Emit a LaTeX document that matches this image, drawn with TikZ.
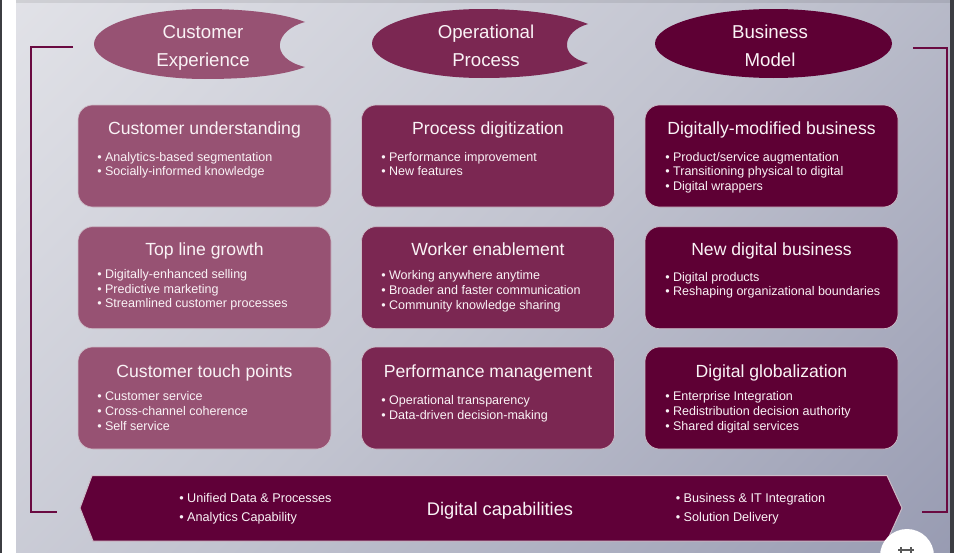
\documentclass[tikz,border=0pt]{standalone}
\usepackage{fontspec}
\setmainfont{Liberation Sans}
\usetikzlibrary{shapes.geometric}

\definecolor{mauve}{HTML}{975273}
\definecolor{plum}{HTML}{7B2752}
\definecolor{wine}{HTML}{5E0034}
\definecolor{bannerfill}{HTML}{600038}
\definecolor{bracketcol}{HTML}{6A0A41}
\definecolor{paneltop}{HTML}{EEEEF1}
\definecolor{panelmid}{HTML}{C2C4D0}
\definecolor{panelbot}{HTML}{878BA6}
\definecolor{ink}{HTML}{FAF3F6}
\definecolor{rim}{HTML}{CDBCC7}
\definecolor{edgedark}{HTML}{3C3D42}

% diagonal backdrop: light at the upper left, slate at the lower right
\pgfdeclareverticalshading{panelshade}{100bp}{color(0bp)=(panelbot); color(50bp)=(panelmid); color(100bp)=(paneltop)}

\newcommand\itemlines[1]{\parbox[t]{190pt}{\raggedright #1}}
\newcommand\headlines[1]{\parbox[t]{120pt}{\centering #1}}

\tikzset{
  tile/.style={rectangle, rounded corners=11pt, minimum width=189.75pt,
    minimum height=76.5pt, inner sep=0pt, draw=rim, line width=0.5pt},
  tiletitle/.style={anchor=base, inner sep=0pt, text=ink,
    font=\fontsize{13.2}{15}\selectfont},
  tilelist/.style={anchor=base west, inner sep=0pt, text=ink,
    font=\fontsize{9.4}{11.1}\selectfont},
  headtext/.style={anchor=base, inner sep=0pt, text=ink,
    font=\fontsize{14}{21.3}\selectfont},
  bannerlist/.style={anchor=base west, inner sep=0pt, text=ink,
    font=\fontsize{9.5}{14.25}\selectfont},
  bannertitle/.style={anchor=base, inner sep=0pt, text=ink,
    font=\fontsize{13.7}{16}\selectfont},
  bracket/.style={draw=bracketcol, line width=1.5pt},
}

\begin{document}
\begin{tikzpicture}[x=0.75pt, y=-0.75pt]
\useasboundingbox (0,0) rectangle (954,553);

% page backdrop
\fill[white] (0,0) rectangle (954,553);
\fill[edgedark] (0,0) rectangle (2,553);
\shade[shading=panelshade, shading angle=45] (16,0) rectangle (950,553);
\fill[black, opacity=0.08] (16,0) rectangle (950,2.5);
\fill[edgedark] (950,0) rectangle (954,553);

% side brackets
\draw[bracket] (73,47) -- (31,47) -- (31,512) -- (57,512);
\draw[bracket] (913,48) -- (947,48) -- (947,512) -- (922,512);

% column headers
\fill[mauve] (94,44) .. controls (94,24.7) and (143.7,9) .. (205,9)
  .. controls (250,9) and (285,14) .. (305,22)
  .. controls (275,30) and (268,58) .. (305,67)
  .. controls (285,75) and (250,79) .. (205,79)
  .. controls (143.7,79) and (94,63.3) .. (94,44) -- cycle;
\fill[plum] (372,43.5) .. controls (372,24.5) and (421,9) .. (482,9)
  .. controls (528,9) and (566,15) .. (588,24)
  .. controls (563,31) and (557,56) .. (588,63)
  .. controls (566,73) and (528,78) .. (482,78)
  .. controls (421,78) and (372,62.5) .. (372,43.5) -- cycle;
\node[ellipse, fill=wine, minimum width=177.75pt, minimum height=51.75pt,
  inner sep=0pt] (bmshape) at (773.5,43.5) {};

\node[headtext] (hce) at (203,38.3) {\headlines{Customer\\Experience}};
\node[headtext] (hop) at (486,38.3) {\headlines{Operational\\Process}};
\node[headtext] (hbm) at (770,38.3) {\headlines{Business\\Model}};

% tiles, row 1
\node[tile, fill=mauve] (cu) at (204.5,156) {};
\node[tile, fill=plum]  (pd) at (488,156) {};
\node[tile, fill=wine]  (dm) at (771.5,156) {};
% tiles, row 2
\node[tile, fill=mauve] (tl) at (204.5,277.7) {};
\node[tile, fill=plum]  (we) at (488,277.7) {};
\node[tile, fill=wine]  (nd) at (771.5,277.7) {};
% tiles, row 3
\node[tile, fill=mauve] (ct) at (204.5,398) {};
\node[tile, fill=plum]  (pm) at (488,398) {};
\node[tile, fill=wine]  (dg) at (771.5,398) {};

% tile titles
\node[tiletitle] (cu-t) at (204.5,134.3) {Customer understanding};
\node[tiletitle] (pd-t) at (488,134.3) {Process digitization};
\node[tiletitle] (dm-t) at (771.5,134.3) {Digitally-modified business};
\node[tiletitle] (tl-t) at (204.5,255.5) {Top line growth};
\node[tiletitle] (we-t) at (488,255.5) {Worker enablement};
\node[tiletitle] (nd-t) at (771.5,255.5) {New digital business};
\node[tiletitle] (ct-t) at (204.5,377) {Customer touch points};
\node[tiletitle] (pm-t) at (488,377) {Performance management};
\node[tiletitle] (dg-t) at (771.5,377) {Digital globalization};

% tile bullet lists
\node[tilelist] (cu-l) at (97,161) {\itemlines{•~Analytics-based segmentation\\•~Socially-informed knowledge}};
\node[tilelist] (pd-l) at (381,161) {\itemlines{•~Performance improvement\\•~New features}};
\node[tilelist] (dm-l) at (665,161) {\itemlines{•~Product/service augmentation\\•~Transitioning physical to digital\\•~Digital wrappers}};
\node[tilelist] (tl-l) at (97,278.3) {\itemlines{•~Digitally-enhanced selling\\•~Predictive marketing\\•~Streamlined customer processes}};
\node[tilelist] (we-l) at (381,279.5) {\itemlines{•~Working anywhere anytime\\•~Broader and faster communication\\•~Community knowledge sharing}};
\node[tilelist] (nd-l) at (665,281) {\itemlines{•~Digital products\\•~Reshaping organizational boundaries}};
\node[tilelist] (ct-l) at (97,400.5) {\itemlines{•~Customer service\\•~Cross-channel coherence\\•~Self service}};
\node[tilelist] (pm-l) at (381,404.3) {\itemlines{•~Operational transparency\\•~Data-driven decision-making}};
\node[tilelist] (dg-l) at (665,400.5) {\itemlines{•~Enterprise Integration\\•~Redistribution decision authority\\•~Shared digital services}};

% foundation banner
\fill[bannerfill] (80,508) -- (92,475.5) -- (887,475.5) -- (902,508) -- (887,541) -- (93,541) -- cycle;
\draw[rim, line width=0.75pt] (80,508) -- (92,475.5) -- (887,475.5) -- (902,508) -- (887,541) -- (93,541) -- cycle;
\node[bannerlist] (dc-l) at (179,502.7) {\itemlines{•~Unified Data \& Processes\\•~Analytics Capability}};
\node[bannertitle] (dc-t) at (500,515) {Digital capabilities};
\node[bannerlist] (dc-r) at (675.5,502.7) {\itemlines{•~Business \& IT Integration\\•~Solution Delivery}};

% round overlay button in the corner
\fill[white] (907,556) circle[radius=20.25pt];
\draw[black!65, line width=1.2pt] (901,547) -- (901,553) (911,547) -- (911,553);
\draw[black!65, line width=1pt] (898,550) -- (914,550);
\end{tikzpicture}
\end{document}
